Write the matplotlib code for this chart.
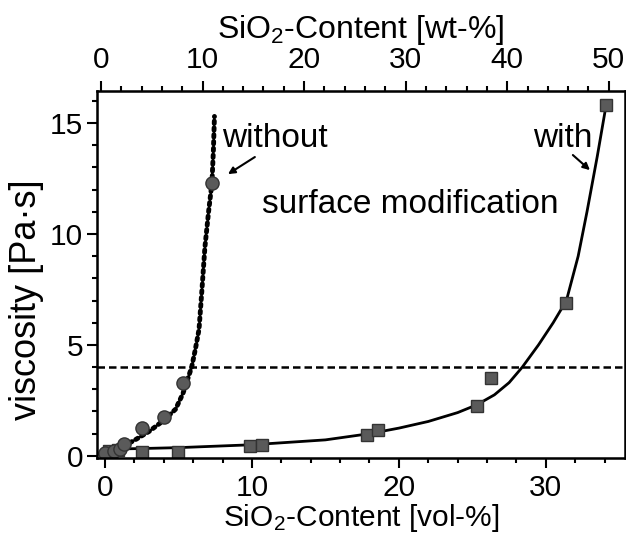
# viscosity vs SiO2 content, with / without surface modification

import matplotlib
matplotlib.use("Agg")
import matplotlib.pyplot as plt
from matplotlib.ticker import MultipleLocator

plt.rcParams['font.family'] = ['Liberation Sans', 'DejaVu Sans']
plt.rcParams['mathtext.fontset'] = 'custom'
plt.rcParams['mathtext.rm'] = 'Liberation Sans'
plt.rcParams['mathtext.default'] = 'regular'

# measured points, vol-% / Pa*s
without_x = [0.0, 0.6, 1.0, 1.3, 2.5, 4.0, 5.3, 7.28]
without_y = [0.15, 0.2, 0.3, 0.55, 1.25, 1.75, 3.3, 12.3]

with_x = [0.3, 0.9, 2.5, 5.0, 9.9, 10.7, 17.8, 18.6, 25.3, 26.3, 31.4, 34.1]
with_y = [0.2, 0.25, 0.18, 0.18, 0.45, 0.5, 0.95, 1.17, 2.25, 3.5, 6.9, 15.8]

# fitted curves
fit_without_x = [0.0, 0.5, 1.0, 2.0, 3.0, 4.0, 4.8, 5.3, 5.6, 5.9, 6.15, 6.4,
                 6.6, 6.8, 7.05, 7.28, 7.38, 7.45]
fit_without_y = [0.1, 0.2, 0.35, 0.7, 1.1, 1.6, 2.1, 2.8, 3.4, 4.0, 4.8, 5.7,
                 7.5, 9.4, 11.0, 12.3, 13.8, 15.3]

fit_with_x = [0.0, 2.5, 5.0, 10.0, 15.0, 18.0, 20.0, 22.0, 24.0, 25.3, 26.5,
              27.5, 28.4, 29.5, 30.5, 31.4, 32.2, 32.8, 33.5, 34.1]
fit_with_y = [0.3, 0.33, 0.37, 0.5, 0.72, 1.0, 1.25, 1.55, 1.95, 2.3, 2.75,
              3.3, 4.0, 5.0, 6.0, 7.0, 9.0, 11.0, 13.5, 15.8]

limit_y = 4.0

fig = plt.figure(figsize=(6.26, 5.33), dpi=100)
ax = fig.add_axes([0.155, 0.141, 0.843, 0.688])

ax.plot(fit_with_x, fit_with_y, color='black', lw=2)
ax.plot(fit_without_x, fit_without_y, color='black', lw=3.5, ls=(0, (0.5, 0.9)),
        dash_capstyle='round')
ax.axhline(limit_y, color='black', lw=1.8, ls=(0, (3, 1.6)))

ax.plot(with_x, with_y, ls='none', marker='s', ms=9.3, mfc='#5a5a5a',
        mec='#333333', mew=1)
ax.plot(without_x, without_y, ls='none', marker='o', ms=9.5, mfc='#5a5a5a',
        mec='#333333', mew=1)

fs_tick = 21.5
fs_text = 24
fs_label = 23
ax.text(7.95, 13.9, 'without', fontsize=fs_text)
ax.text(29.1, 13.9, 'with', fontsize=fs_text)
ax.text(10.7, 10.95, 'surface modification', fontsize=fs_text)
ax.annotate('', xy=(8.37, 12.7), xytext=(10.2, 13.47),
            arrowprops=dict(arrowstyle='-|>', color='black', lw=1.5,
                            mutation_scale=10, shrinkA=0, shrinkB=0))
ax.annotate('', xy=(33.0, 12.88), xytext=(31.84, 13.56),
            arrowprops=dict(arrowstyle='-|>', color='black', lw=1.5,
                            mutation_scale=10, shrinkA=0, shrinkB=0))

ax.set_xlim(-0.54, 35.37)
ax.set_ylim(-0.09, 16.44)
ax.xaxis.set_major_locator(MultipleLocator(10))
ax.xaxis.set_minor_locator(MultipleLocator(2))
ax.yaxis.set_major_locator(MultipleLocator(5))
ax.yaxis.set_minor_locator(MultipleLocator(1))
ax.tick_params(which='both', direction='out', width=1.5, labelsize=fs_tick,
               top=False, right=False)
ax.tick_params(which='major', length=7)
ax.tick_params(which='minor', length=3.8)
ax.tick_params(axis='x', which='major', pad=4.5)
ax.tick_params(axis='y', which='major', pad=3)
ax.set_xlabel('SiO$_2$-Content [vol-%]', fontsize=21.5, labelpad=0)
ax.set_ylabel('viscosity [Pa·s]', fontsize=26)
ax.yaxis.set_label_coords(-0.10, 0.43)
for s in ax.spines.values():
    s.set_linewidth(1.8)

# top axis in wt-%
ax2 = ax.twiny()
ax2.set_xlim(-0.39, 51.57)
ax2.xaxis.set_major_locator(MultipleLocator(10))
ax2.xaxis.set_minor_locator(MultipleLocator(2))
ax2.tick_params(which='both', direction='out', width=1.5, labelsize=fs_tick)
ax2.tick_params(which='major', length=7, pad=5)
ax2.tick_params(which='minor', length=3.8)
ax2.set_xlabel('SiO$_2$-Content [wt-%]', fontsize=fs_label, labelpad=6)

fig.savefig('out.png', dpi=100)
